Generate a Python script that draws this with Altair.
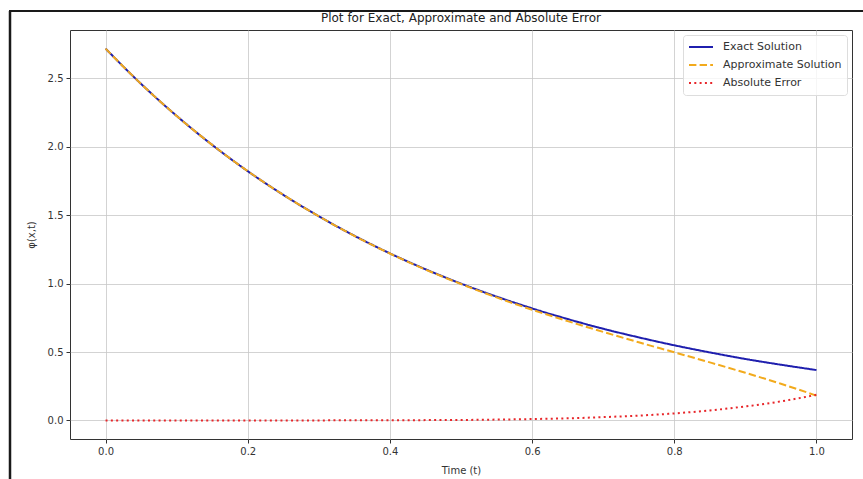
import altair as alt
import pandas as pd

# Time samples and the three curves
t = [0.00, 0.05, 0.10, 0.15, 0.20, 0.25, 0.30, 0.35, 0.40, 0.45, 0.50,
     0.55, 0.60, 0.65, 0.70, 0.75, 0.80, 0.85, 0.90, 0.95, 1.00]
exact = [2.718, 2.460, 2.226, 2.014, 1.822, 1.649, 1.492, 1.350, 1.221, 1.105, 1.000,
         0.905, 0.819, 0.741, 0.670, 0.607, 0.549, 0.497, 0.449, 0.407, 0.368]
approx = [2.718, 2.460, 2.226, 2.014, 1.822, 1.649, 1.492, 1.349, 1.220, 1.103, 0.997,
          0.899, 0.809, 0.726, 0.647, 0.571, 0.498, 0.424, 0.348, 0.268, 0.181]
abs_err = [0.000, 0.000, 0.000, 0.000, 0.000, 0.000, 0.000, 0.001, 0.001, 0.002, 0.003,
           0.006, 0.010, 0.015, 0.024, 0.035, 0.051, 0.073, 0.102, 0.139, 0.187]

series_names = ["Exact Solution", "Approximate Solution", "Absolute Error"]
series_colors = ["#1f1fae", "#f2aa1c", "#e8262a"]
series_dashes = [[1, 0], [7.4, 3.2], [2, 3.3]]

x_ticks = [0.0, 0.2, 0.4, 0.6, 0.8, 1.0]
y_ticks = [0.0, 0.5, 1.0, 1.5, 2.0, 2.5]

rows = []
for name, values in zip(series_names, [exact, approx, abs_err]):
    for ti, v in zip(t, values):
        rows.append({"t": ti, "value": v, "series": name})
df = pd.DataFrame(rows)

FONT = "DejaVu Sans"

lines = alt.Chart(df).mark_line(strokeWidth=2, interpolate="monotone").encode(
    x=alt.X("t:Q",
            scale=alt.Scale(domain=[-0.05, 1.05], nice=False, zero=False),
            axis=alt.Axis(title="Time (t)", values=x_ticks, format=".1f",
                          titlePadding=9)),
    y=alt.Y("value:Q",
            scale=alt.Scale(domain=[-0.136, 2.854], nice=False, zero=False),
            axis=alt.Axis(title="φ(x,t)", values=y_ticks, format=".1f",
                          titlePadding=11)),
    color=alt.Color("series:N",
                    scale=alt.Scale(domain=series_names, range=series_colors),
                    legend=alt.Legend(title=None, orient="top-right", offset=5)),
    strokeDash=alt.StrokeDash("series:N",
                              scale=alt.Scale(domain=series_names, range=series_dashes),
                              legend=alt.Legend(title=None, orient="top-right", offset=5)),
    order="t:Q",
)

# Dark frame edges around the figure
frame = alt.Data(values=[{}])
left_edge = alt.Chart(frame).mark_rule(color="#1a1a1a", strokeWidth=2.5).encode(
    x=alt.value(-60), y=alt.value(-19), y2=alt.value(449))
top_edge = alt.Chart(frame).mark_rule(color="#1a1a1a", strokeWidth=2).encode(
    y=alt.value(-19), x=alt.value(-61), x2=alt.value(793))

chart = alt.layer(lines, left_edge, top_edge).properties(
    width=782,
    height=409,
    background="white",
    title=alt.TitleParams("Plot for Exact, Approximate and Absolute Error",
                          fontSize=12, font=FONT, fontWeight="normal",
                          color="#222222", anchor="middle", offset=-15),
    autosize=alt.AutoSizeParams(type="none"),
    padding={"left": 70, "top": 30, "right": 11, "bottom": 40},
).configure_view(
    stroke="#333333", strokeWidth=1
).configure_axis(
    labelFont=FONT, titleFont=FONT, labelFontSize=10, titleFontSize=10,
    labelColor="#333333", titleColor="#333333", titleFontWeight="normal",
    gridColor="#c8c8c8", gridWidth=0.8, domain=False,
    tickColor="#333333", tickSize=4, labelPadding=3,
).configure_legend(
    labelFont=FONT, labelFontSize=11, labelColor="#333333",
    symbolType="stroke", symbolStrokeWidth=2, symbolSize=576,
    clipHeight=14, rowPadding=4, labelOffset=9,
    fillColor="rgba(255,255,255,0.8)", strokeColor="#dddddd",
    padding=5, cornerRadius=3,
)

chart.save("out.html", embed_options={"renderer": "svg", "actions": False})
